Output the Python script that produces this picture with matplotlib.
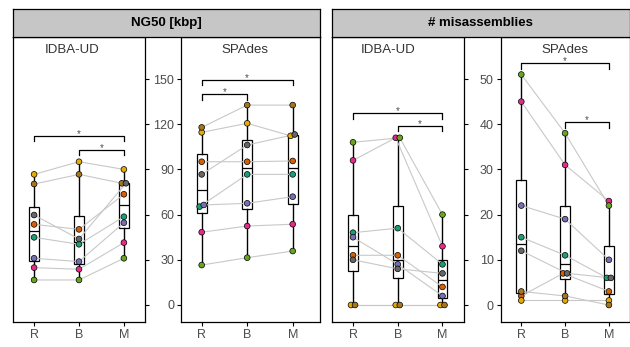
import numpy as np
import matplotlib
matplotlib.use('Agg')
import matplotlib.pyplot as plt

plt.rcParams['font.family'] = ['Liberation Sans', 'DejaVu Sans']

# DATA
groups = ['R', 'B', 'M']
# one colour per sample (8 samples)
colors = ['#1B9E77', '#D95F02', '#7570B3', '#E7298A', '#66A61E', '#E6AB02', '#A6761D', '#666666']

# NG50 [kbp], IDBA-UD
ng50_idba_r = [44.9, 53.5, 31.0, 24.8, 16.6, 86.7, 80.3, 59.7]
ng50_idba_b = [40.3, 50.2, 28.8, 23.7, 16.6, 95.1, 86.7, 43.8]
ng50_idba_m = [58.6, 73.5, 54.6, 41.4, 31.0, 90.0, 80.8, 80.8]
# NG50 [kbp], SPAdes
ng50_spades_r = [65.3, 95.1, 66.4, 48.3, 26.5, 114.6, 117.9, 86.7]
ng50_spades_b = [86.7, 95.1, 67.5, 52.4, 31.4, 120.6, 132.7, 106.2]
ng50_spades_m = [86.7, 95.6, 71.9, 53.6, 35.8, 112.3, 132.7, 113.2]
# misassemblies, IDBA-UD
mis_idba_r = [16, 11, 15, 32, 36, 0, 0, 10]
mis_idba_b = [17, 11, 9, 37, 37, 0, 0, 8]
mis_idba_m = [9, 4, 2, 13, 20, 0, 0, 7]
# misassemblies, SPAdes
mis_spades_r = [15, 2, 22, 45, 51, 1, 3, 12]
mis_spades_b = [11, 7, 19, 31, 38, 1, 2, 7]
mis_spades_m = [6, 3, 10, 23, 22, 1, 0, 6]

# significance brackets: (group a, group b, height)
sig_ng50_idba = [(1, 3, 112.2), (2, 3, 102.9)]
sig_ng50_spades = [(1, 3, 149.3), (1, 2, 139.8)]
sig_mis_idba = [(1, 3, 42.4), (2, 3, 39.6)]
sig_mis_spades = [(1, 3, 53.5), (2, 3, 40.4)]

ng50_ticks = [0, 30, 60, 90, 120, 150]
mis_ticks = [0, 10, 20, 30, 40, 50]

W, H = 630, 347
TXT = '#4d4d4d'


def px_rect(x0, y0, x1, y1):
    return [x0 / W, 1 - y1 / H, (x1 - x0) / W, (y1 - y0) / H]


def dodge(vals, tol, step=0.09):
    vals = np.asarray(vals, dtype=float)
    off = np.zeros(len(vals))
    order = np.argsort(vals, kind='stable')
    clusters = [[order[0]]]
    for k in order[1:]:
        if vals[k] - vals[clusters[-1][-1]] < tol:
            clusters[-1].append(k)
        else:
            clusters.append([k])
    for c in clusters:
        c = sorted(c)
        n = len(c)
        for j, k in enumerate(c):
            off[k] = (j - (n - 1) / 2) * step
    return off


def draw_panel(ax, data, ylim, ticks, sig, drop, title, title_x, side):
    pos = [1, 2, 3]
    ax.boxplot(data, positions=pos, widths=0.22, whis=1.5, patch_artist=True,
               showfliers=False, showcaps=False,
               boxprops=dict(facecolor='white', edgecolor='black', linewidth=0.9),
               medianprops=dict(color='black', linewidth=0.9),
               whiskerprops=dict(color='black', linewidth=1.0), zorder=1)
    tol = 0.012 * (ylim[1] - ylim[0])
    xs = [p + dodge(v, tol) for p, v in zip(pos, data)]
    for s in range(len(colors)):
        ax.plot([xs[i][s] for i in range(3)], [data[i][s] for i in range(3)],
                color='#c8c8c8', lw=0.8, zorder=2)
    for i in range(3):
        ax.scatter(xs[i], data[i], c=colors, s=17, edgecolors='black',
                   linewidths=0.5, zorder=3)
    for a, b, h in sig:
        ax.plot([a, a, b, b], [h - drop, h, h, h - drop], color='black', lw=0.9, zorder=2)
        ax.annotate('*', xy=((a + b) / 2, h), xytext=(0, 1.5), textcoords='offset points',
                    ha='center', va='center', fontsize=7, color=TXT)
    ax.set_xlim(0.53, 3.47)
    ax.set_ylim(*ylim)
    ax.set_xticks(pos)
    ax.set_xticklabels(groups)
    ax.set_yticks(ticks)
    ax.tick_params(axis='both', direction='out', length=3, width=0.8,
                   labelsize=9, labelcolor=TXT, pad=2)
    if side == 'right':
        ax.yaxis.tick_right()
        ax.tick_params(axis='y', labelright=False)
    for sp in ax.spines.values():
        sp.set_linewidth(0.9)
    ax.text(title_x, 0.955, title, transform=ax.transAxes, ha='center', va='center',
            fontsize=9.5, color='#333333')


def strip(fig, rect, label):
    s = fig.add_axes(rect)
    s.set_facecolor('#c6c6c6')
    s.set_xticks([])
    s.set_yticks([])
    for sp in s.spines.values():
        sp.set_linewidth(0.9)
    s.text(0.5, 0.5, label, ha='center', va='center', fontsize=9.5,
           fontweight='bold', transform=s.transAxes)


fig = plt.figure(figsize=(6.3, 3.47), dpi=100)

ng50_lim = (-11.3, 177.9)
mis_lim = (-3.76, 59.3)

ax1 = fig.add_axes(px_rect(13, 37, 145, 322))
draw_panel(ax1, [ng50_idba_r, ng50_idba_b, ng50_idba_m], ng50_lim, ng50_ticks,
           sig_ng50_idba, 3.5, 'IDBA-UD', 0.445, 'right')
ax2 = fig.add_axes(px_rect(181, 37, 320, 322))
draw_panel(ax2, [ng50_spades_r, ng50_spades_b, ng50_spades_m], ng50_lim, ng50_ticks,
           sig_ng50_spades, 3.5, 'SPAdes', 0.46, 'left')
ax2.set_xlim(0.545, 3.6)
ax3 = fig.add_axes(px_rect(332, 37, 463.5, 322))
draw_panel(ax3, [mis_idba_r, mis_idba_b, mis_idba_m], mis_lim, mis_ticks,
           sig_mis_idba, 1.2, 'IDBA-UD', 0.43, 'right')
ax4 = fig.add_axes(px_rect(500.7, 37, 629.5, 322))
draw_panel(ax4, [mis_spades_r, mis_spades_b, mis_spades_m], mis_lim, mis_ticks,
           sig_mis_spades, 1.2, 'SPAdes', 0.5, 'left')

strip(fig, px_rect(13, 9, 320, 37), 'NG50 [kbp]')
strip(fig, px_rect(332, 9, 629.5, 37), '# misassemblies')

fig.savefig('out.png', dpi=100)
